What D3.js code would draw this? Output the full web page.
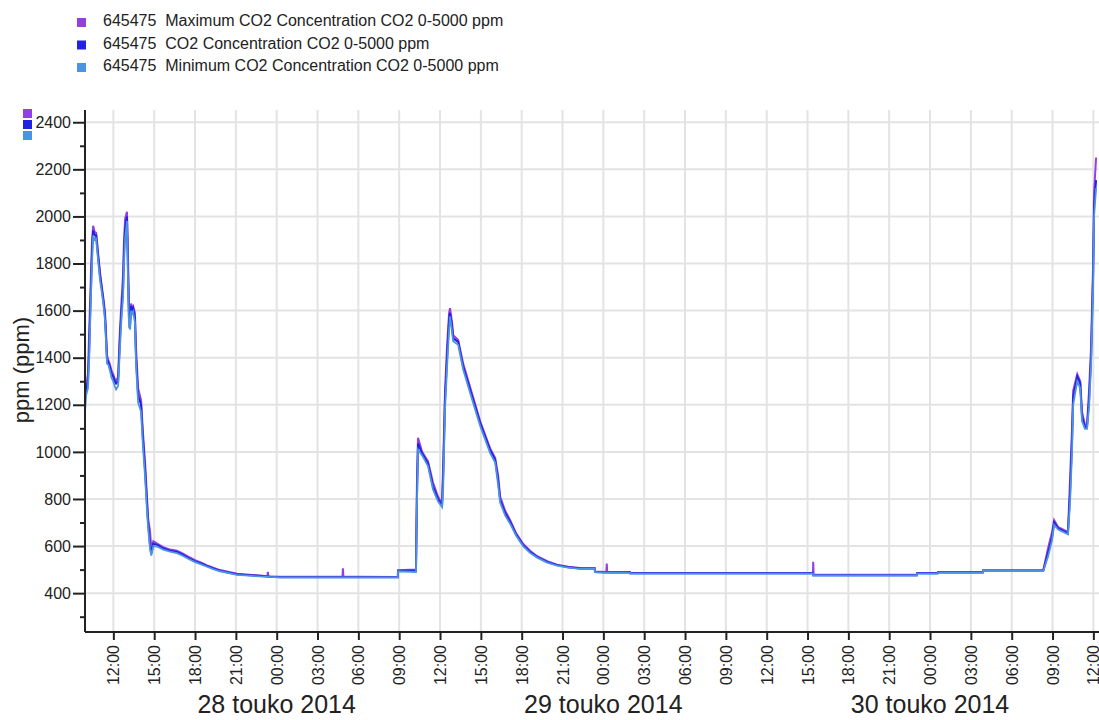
<!DOCTYPE html>
<html>
<head>
<meta charset="utf-8">
<script src="https://cdn.jsdelivr.net/npm/d3@7"></script>
<style>
  body { margin: 0; background: #fff; }
  svg { font-family: "Liberation Sans", Arial, sans-serif; }
  .grid line { stroke: #e3e3e3; stroke-width: 2; }
  .axis path, .axis line { stroke: #222; }
  .axis text { fill: #222; }
  .legend-text { white-space: pre; }
</style>
</head>
<body>
<div id="chart"></div>
<script>
// series names (legend)
let seriesNames = [
    "645475  Maximum CO2 Concentration CO2 0-5000 ppm",
    "645475  CO2 Concentration CO2 0-5000 ppm",
    "645475  Minimum CO2 Concentration CO2 0-5000 ppm"
];
let seriesColors = ["#9440e0", "#2222e0", "#4a94e2"];

// sample times
let times = [
    "2014-05-27 09:55", "2014-05-27 10:00", "2014-05-27 10:08", "2014-05-27 10:13", "2014-05-27 10:17",
    "2014-05-27 10:22", "2014-05-27 10:26", "2014-05-27 10:31", "2014-05-27 10:37", "2014-05-27 10:44",
    "2014-05-27 10:49", "2014-05-27 10:53", "2014-05-27 11:01", "2014-05-27 11:08", "2014-05-27 11:15",
    "2014-05-27 11:23", "2014-05-27 11:28", "2014-05-27 11:32", "2014-05-27 11:38", "2014-05-27 11:45",
    "2014-05-27 11:52", "2014-05-27 11:59", "2014-05-27 12:06", "2014-05-27 12:12", "2014-05-27 12:21",
    "2014-05-27 12:29", "2014-05-27 12:36", "2014-05-27 12:43", "2014-05-27 12:47", "2014-05-27 12:52",
    "2014-05-27 13:00", "2014-05-27 13:04", "2014-05-27 13:09", "2014-05-27 13:14", "2014-05-27 13:18",
    "2014-05-27 13:22", "2014-05-27 13:27", "2014-05-27 13:35", "2014-05-27 13:40", "2014-05-27 13:49",
    "2014-05-27 14:02", "2014-05-27 14:10", "2014-05-27 14:20", "2014-05-27 14:27", "2014-05-27 14:33",
    "2014-05-27 14:42", "2014-05-27 14:47", "2014-05-27 14:50", "2014-05-27 14:56", "2014-05-27 15:13",
    "2014-05-27 15:40", "2014-05-27 16:10", "2014-05-27 16:40", "2014-05-27 17:03", "2014-05-27 17:30",
    "2014-05-27 18:00", "2014-05-27 18:30", "2014-05-27 18:53", "2014-05-27 19:20", "2014-05-27 19:50",
    "2014-05-27 20:30", "2014-05-27 21:05", "2014-05-27 22:00", "2014-05-27 22:47", "2014-05-27 23:19",
    "2014-05-27 23:21", "2014-05-27 23:23", "2014-05-27 23:30",
    "2014-05-28 00:15", "2014-05-28 02:00", "2014-05-28 03:30", "2014-05-28 04:50", "2014-05-28 04:52",
    "2014-05-28 04:54", "2014-05-28 06:00",
    "2014-05-28 08:54", "2014-05-28 08:55", "2014-05-28 10:14", "2014-05-28 10:18", "2014-05-28 10:23",
    "2014-05-28 10:41", "2014-05-28 11:07", "2014-05-28 11:29", "2014-05-28 11:51", "2014-05-28 12:09",
    "2014-05-28 12:14", "2014-05-28 12:22", "2014-05-28 12:31", "2014-05-28 12:40", "2014-05-28 12:44",
    "2014-05-28 12:53", "2014-05-28 12:58", "2014-05-28 13:20", "2014-05-28 13:42", "2014-05-28 14:22",
    "2014-05-28 14:57", "2014-05-28 15:41", "2014-05-28 16:03", "2014-05-28 16:16", "2014-05-28 16:25",
    "2014-05-28 16:47", "2014-05-28 17:09", "2014-05-28 17:35", "2014-05-28 18:06", "2014-05-28 18:37",
    "2014-05-28 19:08", "2014-05-28 19:52", "2014-05-28 20:36", "2014-05-28 21:25", "2014-05-28 22:17",
    "2014-05-28 23:22", "2014-05-28 23:23",
    "2014-05-29 00:13", "2014-05-29 00:15", "2014-05-29 00:17", "2014-05-29 01:57", "2014-05-29 01:58",
    "2014-05-29 09:00", "2014-05-29 15:24", "2014-05-29 15:25", "2014-05-29 15:27", "2014-05-29 15:40",
    "2014-05-29 23:02", "2014-05-29 23:03",
    "2014-05-30 00:34", "2014-05-30 00:35", "2014-05-30 03:53", "2014-05-30 03:54", "2014-05-30 08:19",
    "2014-05-30 08:40", "2014-05-30 08:58", "2014-05-30 09:07", "2014-05-30 09:25", "2014-05-30 10:08",
    "2014-05-30 10:17", "2014-05-30 10:26", "2014-05-30 10:31", "2014-05-30 10:49", "2014-05-30 11:02",
    "2014-05-30 11:10", "2014-05-30 11:23", "2014-05-30 11:32", "2014-05-30 11:41", "2014-05-30 11:50",
    "2014-05-30 11:59", "2014-05-30 12:03", "2014-05-30 12:12"
];

let maxValues = [
    1250, 1280, 1330, 1500, 1620, 1780, 1900, 1960, 1935, 1930,
    1885, 1840, 1765, 1710, 1660, 1595, 1500, 1410, 1390, 1370,
    1345, 1330, 1310, 1300, 1320, 1520, 1640, 1760, 1900, 1990,
    2020, 1850, 1600, 1560, 1630, 1615, 1620, 1590, 1440, 1270,
    1220, 1090, 950, 830, 720, 660, 590, 600, 620, 610,
    595, 585, 580, 570, 555, 540, 528, 518, 508, 498,
    490, 482, 478, 475, 472,
    490, 471, 471,
    470, 470, 470, 470, 506,
    470, 470,
    469, 497, 500, 850, 1060,
    1000, 960, 870, 810, 780, 950, 1260, 1450, 1590, 1610,
    1550, 1495, 1475, 1375, 1245, 1130, 1015, 975, 900, 810,
    750, 710, 655, 610, 580, 557, 536, 521, 512, 507,
    506, 492,
    490, 526, 490, 490, 486,
    486, 486, 533, 478, 478,
    478, 486,
    486, 490, 490, 497, 497, 590, 660, 710, 680, 660,
    880, 1100, 1260, 1330, 1300, 1170, 1115, 1115, 1260, 1450,
    1800, 2100, 2250
];

let co2Values = [
    1230, 1260, 1300, 1420, 1560, 1720, 1850, 1940, 1920, 1920,
    1870, 1830, 1750, 1700, 1650, 1580, 1480, 1390, 1380, 1360,
    1330, 1320, 1300, 1290, 1300, 1480, 1600, 1700, 1850, 1950,
    2000, 1800, 1560, 1540, 1620, 1600, 1610, 1570, 1400, 1240,
    1200, 1060, 920, 800, 700, 600, 570, 580, 610, 605,
    590, 580, 575, 565, 550, 535, 525, 515, 505, 495,
    487, 480, 476, 473, 471,
    471, 471, 470,
    468, 468, 468, 468, 468,
    468, 468,
    468, 495, 495, 800, 1036,
    993, 951, 852, 800, 774, 900, 1220, 1400, 1560, 1590,
    1530, 1482, 1467, 1361, 1234, 1121, 1007, 965, 880, 795,
    740, 703, 650, 604, 575, 554, 533, 519, 510, 505,
    505, 490,
    488, 488, 488, 488, 484,
    484, 484, 476, 476, 476,
    476, 484,
    484, 488, 488, 495, 495, 569, 639, 700, 675, 654,
    820, 1050, 1234, 1319, 1291, 1149, 1106, 1106, 1220, 1404,
    1758, 2041, 2154
];

let minValues = [
    1170, 1240, 1270, 1380, 1520, 1680, 1800, 1920, 1900, 1905,
    1850, 1810, 1730, 1685, 1635, 1560, 1460, 1375, 1370, 1345,
    1315, 1300, 1280, 1265, 1280, 1440, 1570, 1660, 1800, 1910,
    1980, 1760, 1530, 1520, 1600, 1585, 1595, 1550, 1370, 1210,
    1170, 1030, 890, 770, 680, 585, 560, 570, 600, 598,
    585, 576, 570, 560, 546, 532, 521, 512, 502, 493,
    485, 478, 474, 471, 470,
    470, 470, 469,
    467, 467, 467, 467, 467,
    467, 467,
    467, 493, 490, 760, 1010,
    985, 940, 840, 790, 765, 850, 1180, 1360, 1520, 1575,
    1510, 1470, 1455, 1350, 1220, 1110, 995, 955, 860, 785,
    730, 695, 645, 600, 571, 551, 530, 517, 508, 503,
    503, 489,
    487, 487, 487, 486, 483,
    483, 483, 475, 475, 475,
    475, 483,
    483, 487, 487, 494, 494, 555, 625, 690, 670, 650,
    780, 1000, 1200, 1300, 1270, 1130, 1098, 1098, 1190, 1370,
    1700, 2000, 2120
];

// axis settings
let yMajorTicks = [400, 600, 800, 1000, 1200, 1400, 1600, 1800, 2000, 2200, 2400];
let yMinorTicks = [300, 500, 700, 900, 1100, 1300, 1500, 1700, 1900, 2100, 2300];
let dayLabelDates = ["2014-05-28 00:00", "2014-05-29 00:00", "2014-05-30 00:00"];
let dayLabels = ["28 touko 2014", "29 touko 2014", "30 touko 2014"];
let xStart = "2014-05-27 09:55";
let xEnd = "2014-05-30 12:16";
let yLabel = "ppm (ppm)";

let width = 1099;
let height = 720;
let plotLeft = 85, plotRight = 1097, plotTop = 110, plotBottom = 632;

let parse = d3.timeParse("%Y-%m-%d %H:%M");

let svg = d3.select("#chart")
    .append("svg")
    .attr("width", width)
    .attr("height", height);

let x = d3.scaleTime()
    .domain([parse(xStart), parse(xEnd)])
    .range([plotLeft, plotRight]);

let y = d3.scaleLinear()
    .domain([235, 2452])
    .range([plotBottom, plotTop]);

let xTicks = d3.timeHour.every(3).range(parse(xStart), parse(xEnd));

// grid
let grid = svg.append("g").attr("class", "grid");
grid.selectAll(".vgrid")
    .data(xTicks)
    .enter()
    .append("line")
    .attr("x1", d => x(d))
    .attr("x2", d => x(d))
    .attr("y1", plotTop)
    .attr("y2", plotBottom);
grid.selectAll(".hgrid")
    .data(yMajorTicks)
    .enter()
    .append("line")
    .attr("x1", plotLeft)
    .attr("x2", plotRight + 2)
    .attr("y1", d => y(d))
    .attr("y2", d => y(d));

// lines
let series = [maxValues, co2Values, minValues];
let widths = [2, 2, 1.8];
series.forEach((vals, i) => {
    let pts = times.map((t, j) => ({ date: parse(t), value: vals[j] }));
    let line = d3.line()
        .x(d => x(d.date))
        .y(d => y(d.value));
    svg.append("path")
        .datum(pts)
        .attr("fill", "none")
        .attr("stroke", seriesColors[i])
        .attr("stroke-width", widths[i])
        .attr("d", line);
});

// y axis
let yAxis = d3.axisLeft(y)
    .tickValues(yMajorTicks)
    .tickSize(12)
    .tickPadding(2)
    .tickFormat(d3.format("d"));
let yg = svg.append("g")
    .attr("class", "axis y-axis")
    .attr("transform", "translate(" + plotLeft + ",0)")
    .call(yAxis);
yg.select(".domain").attr("stroke-width", 2).attr("d", "M0," + plotTop + "V" + plotBottom);
yg.selectAll(".tick line").attr("stroke-width", 2);
yg.selectAll("text").attr("font-size", 16).attr("font-family", null);

let yMinor = d3.axisLeft(y).tickValues(yMinorTicks).tickSize(5).tickFormat("");
let ym = svg.append("g")
    .attr("class", "axis")
    .attr("transform", "translate(" + plotLeft + ",0)")
    .call(yMinor);
ym.select(".domain").remove();
ym.selectAll(".tick line").attr("stroke-width", 2);

// x axis
let xAxis = d3.axisBottom(x)
    .tickValues(xTicks)
    .tickSize(8)
    .tickFormat(d3.timeFormat("%H:%M"));
let xg = svg.append("g")
    .attr("class", "axis x-axis")
    .attr("transform", "translate(0," + plotBottom + ")")
    .call(xAxis);
xg.select(".domain").attr("stroke-width", 2).attr("d", "M" + plotLeft + ",0H" + (plotRight + 2));
xg.selectAll(".tick line").attr("stroke-width", 2);
xg.selectAll("text")
    .attr("font-size", 16)
    .attr("font-family", null)
    .attr("text-anchor", "end")
    .attr("transform", "translate(0,13) rotate(-90)")
    .attr("x", 0)
    .attr("y", 0)
    .attr("dy", "0.35em");

// day labels
svg.selectAll(".day")
    .data(dayLabelDates)
    .enter()
    .append("text")
    .attr("class", "day")
    .attr("x", d => x(parse(d)))
    .attr("y", 713)
    .attr("text-anchor", "middle")
    .attr("font-size", 25)
    .attr("fill", "#222")
    .text((d, i) => dayLabels[i]);

// y label
svg.append("text")
    .attr("transform", "translate(29,370) rotate(-90)")
    .attr("text-anchor", "middle")
    .attr("font-size", 22)
    .attr("fill", "#222")
    .text(yLabel);

// legend
let legend = svg.append("g");
seriesNames.forEach((name, i) => {
    legend.append("rect")
        .attr("x", 77)
        .attr("y", 18 + i * 22.5)
        .attr("width", 9)
        .attr("height", 9)
        .attr("fill", seriesColors[i]);
    legend.append("text")
        .attr("class", "legend-text")
        .attr("x", 103)
        .attr("y", 26 + i * 22.5)
        .attr("font-size", 16)
        .attr("fill", "#222")
        .text(name);
    // small markers at the top of the y axis
    svg.append("rect")
        .attr("x", 23)
        .attr("y", 109 + i * 11)
        .attr("width", 9)
        .attr("height", 9)
        .attr("fill", seriesColors[i]);
});
</script>
</body>
</html>
